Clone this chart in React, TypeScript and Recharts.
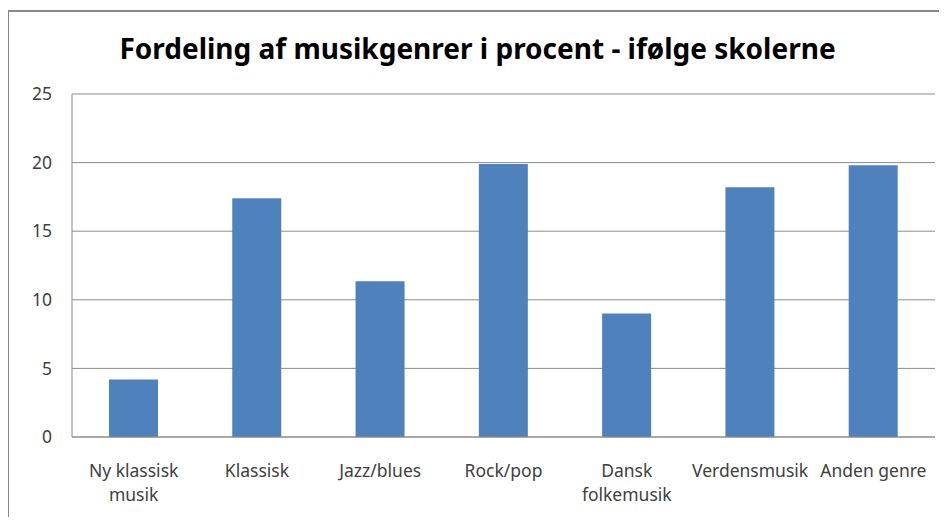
import React from "react";
import { BarChart, Bar, XAxis, YAxis, CartesianGrid } from "recharts";

const categories = [
  "Ny klassisk\nmusik",
  "Klassisk",
  "Jazz/blues",
  "Rock/pop",
  "Dansk\nfolkemusik",
  "Verdensmusik",
  "Anden genre",
];
const values = [4.2, 17.4, 11.35, 19.9, 9.0, 18.2, 19.8];
const yTicks = [0, 5, 10, 15, 20, 25];
const title = "Fordeling af musikgenrer i procent - ifølge skolerne";

const data = categories.map((c, i) => ({ name: c, value: values[i] }));

const FONT = "'Noto Sans', 'Open Sans', sans-serif";

const XTick = (props: any) => {
  const { x, y, payload } = props;
  const lines = String(payload.value).split("\n");
  return (
    <text
      x={x}
      y={y + 32}
      textAnchor="middle"
      fill="#404040"
      fontSize={17.5}
      fontFamily={FONT}
    >
      {lines.map((l: string, i: number) => (
        <tspan key={i} x={x} dy={i === 0 ? 0 : 24}>
          {l}
        </tspan>
      ))}
    </text>
  );
};

export default function App() {
  return (
    <div
      style={{
        position: "relative",
        width: 947,
        height: 525,
        margin: -8,
        background: "#fff",
        overflow: "hidden",
      }}
    >
      <div
        style={{
          position: "absolute",
          left: 7,
          top: 10,
          width: 960,
          height: 600,
          borderLeft: "2px solid #888",
          borderTop: "2px solid #888",
        }}
      />
      <div
        style={{
          position: "absolute",
          left: 0,
          top: 28,
          width: 955,
          textAlign: "center",
          fontFamily: FONT,
          fontWeight: 700,
          fontSize: 28,
          color: "#000",
          lineHeight: "40px",
        }}
      >
        {title}
      </div>
      <div style={{ position: "absolute", left: 0, top: 0 }}>
        <BarChart
          width={947}
          height={525}
          data={data}
          margin={{ top: 94, right: 12, bottom: 28, left: 0 }}
          barCategoryGap="30%"
        >
          <CartesianGrid vertical={false} stroke="#8c8c8c" strokeWidth={1} />
          <XAxis
            dataKey="name"
            height={60}
            axisLine={{ stroke: "#8c8c8c" }}
            tickLine={false}
            tick={<XTick />}
            interval={0}
          />
          <YAxis
            width={72}
            domain={[0, 25]}
            ticks={yTicks}
            axisLine={{ stroke: "#8c8c8c" }}
            tickLine={false}
            tickMargin={14}
            tick={{ fill: "#404040", fontSize: 17.5, fontFamily: FONT }}
          />
          <Bar dataKey="value" fill="#4F81BD" isAnimationActive={false} />
        </BarChart>
      </div>
    </div>
  );
}
